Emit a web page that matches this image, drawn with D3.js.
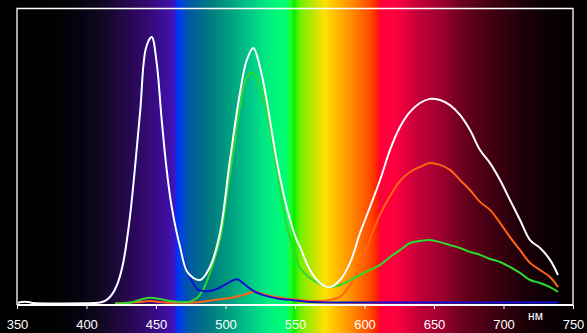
<!DOCTYPE html>
<html><head><meta charset="utf-8">
<script src="https://cdn.jsdelivr.net/npm/d3@7"></script>
<style>html,body{margin:0;padding:0;background:#000;overflow:hidden}</style>
</head><body>
<svg id="c" width="587" height="333"></svg>
<script>
// ---- data ----
const tickValues = [350, 400, 450, 500, 550, 600, 650, 700, 750];
const unitLabel = "нм";

const whiteNm  = [350.7,352,358,362,380,405,410,414,418,422,426,431,438.5,442.8,446.9,450.5,454.1,457.7,461.3,467.3,473,481.7,488.8,496,503.2,510.4,515.3,520,524.8,529.6,536.8,544,551.2,553.6,560.8,568,575.2,582.4,589.6,596.8,604,611.2,618.3,625.5,632.7,639.9,647.1,654.3,661.5,668.7,675.9,683.1,690.3,697.5,704.7,711.9,719.1,726.3,733.5,739.2];
const whiteVal = [0.3,0.6,0.7,0.3,0.2,0.3,0.5,1.2,3.0,6.5,13.0,28.4,64.5,86.5,90.2,81.4,62.2,45.3,32.8,19.3,10.5,8.1,12.5,24.0,48.6,71.3,82.4,86.5,80.1,68.9,48.6,32.8,21.6,19.3,11.5,7.1,5.7,8.1,13.9,24.0,32.8,41.9,52.0,59.8,64.9,67.9,69.3,68.9,67.2,63.9,58.8,52.0,47.6,41.9,35.1,28.4,21.6,18.9,14.9,9.8];

const orangeNm  = [420.5,438.5,445.7,456.5,481.7,492.4,503.2,512.6,521.2,529.9,541.4,553.6,568,575.2,582.4,589.6,596.8,604,611.2,618.3,625.5,632.7,639.9,647.1,654.3,661.5,668.7,675.9,683.1,690.3,697.5,704.7,711.9,719.1,726.3,733.5,739.2];
const orangeVal = [0.2,0.7,1.0,0.5,0.7,1.4,2.0,3.0,4.1,3.0,2.0,1.4,1.0,1.4,2.4,6.4,13.0,22.0,30.2,36.4,41.5,44.6,46.3,47.6,47.0,45.3,41.9,38.5,34.5,31.8,27.4,22.6,18.2,13.9,11.5,9.1,5.7];

const greenNm  = [420.5,431.3,440.6,445.7,452.9,460.1,467.3,474.5,479.5,483.8,488.8,496,501.8,505.4,510.4,515.3,519.8,524.8,529.9,537,544.2,551.4,553.6,560.8,568,575.2,582.4,589.6,596.8,604,611.2,618.3,625.5,632.7,639.9,647.1,654.3,661.5,668.7,675.9,683.1,690.3,697.5,704.7,711.9,719.1,726.3,733.5,739.2];
const greenVal = [0.2,0.4,1.7,2.1,1.7,1.0,0.7,0.8,2.0,4.7,10.5,21.6,39.5,50.9,66.6,76.7,78.0,73.3,64.5,45.3,26.0,14.9,12.2,8.8,6.8,5.7,6.4,8.1,9.8,11.5,13.2,15.9,18.2,20.6,21.3,21.6,20.9,19.9,18.9,17.6,16.6,15.2,14.2,12.5,10.5,8.1,7.1,5.7,4.1];

const blueNm  = [405,410,414,418,422,426,431,438.5,442.8,446.9,450.5,454.1,457.7,461.3,467.3,473,479.5,483.8,488.8,493.9,498.2,503.2,508.1,510.4,515.3,519.8,524.8,532,539.2,546.4,553.6,560.8,600,650,700,739.2];
const blueVal = [0.3,0.5,1.2,3.0,6.5,13.0,28.4,64.5,86.5,90.2,81.4,62.2,45.3,32.8,19.3,10.5,5.1,4.4,4.4,5.1,6.1,7.5,8.4,7.9,6.1,4.5,3.4,2.4,1.7,1.4,1.0,0.7,0.5,0.5,0.5,0.5];

// background spectrum colours by wavelength
const specNm  = [337.8,380.9,395.3,409.7,431.3,445.7,460.1,463.7,465.1,467.3,474.5,488.8,503.2,517.6,532,544.2,547.1,549.3,553.6,564.4,571.6,582.4,593.2,604,609,611.2,621.9,639.9,654.3,668.7,683.1,697.5,711.9,726.3,740.6,760];
const specCol = ["#000000","#020204","#050310","#100820","#280850","#360a78","#4010a8","#3818c8","#0030ff","#0040e0","#005aa0","#007a80","#00a080","#00c888","#00f080","#00ff70","#20ff20","#00f000","#70f000","#c8e400","#ffe000","#ffb000","#ff8000","#ff4a00","#ff2000","#ff0038","#ff0040","#c00038","#a00030","#700020","#500015","#380010","#200008","#100004","#060000","#000000"];

// ---- chart ----
const W = 587, H = 333;
const svg = d3.select("#c");
const x = d3.scaleLinear().domain([350, 750]).range([17, 573]);
const y = d3.scaleLinear().domain([0, 100]).range([304, 8]);

svg.append("rect").attr("width", W).attr("height", H).attr("fill", "#000");
const grad = svg.append("defs").append("linearGradient")
  .attr("id", "spec").attr("gradientUnits", "userSpaceOnUse")
  .attr("x1", 0).attr("x2", W).attr("y1", 0).attr("y2", 0);
specNm.forEach((n, i) => grad.append("stop")
  .attr("offset", x(n) / W).attr("stop-color", specCol[i]));
svg.append("rect").attr("width", W).attr("height", H).attr("fill", "url(#spec)");

// frame
svg.append("path")
  .attr("d", `M${x(350)},305 V8.5 H${x(750)} V305`)
  .attr("fill", "none").attr("stroke", "#fff").attr("stroke-width", 1.3);

const line = d3.line().x(d => x(d[0])).y(d => y(Math.max(0, d[1]))).curve(d3.curveCatmullRom.alpha(0.5));
const series = [
  {nm: orangeNm, v: orangeVal, c: "#ff6414"},
  {nm: greenNm,  v: greenVal,  c: "#2ed82e"},
  {nm: blueNm,   v: blueVal,   c: "#1010d0"},
  {nm: whiteNm,  v: whiteVal,  c: "#ffffff"}
];
series.forEach(s => {
  svg.append("path")
    .datum(s.nm.map((n, i) => [n, s.v[i]]))
    .attr("d", line)
    .attr("fill", "none").attr("stroke", s.c)
    .attr("stroke-width", 2).attr("stroke-linejoin", "round");
});

// x axis
const ax = svg.append("g").attr("transform", "translate(0,305)")
  .call(d3.axisBottom(x).tickValues(tickValues).tickSize(4).tickFormat(d3.format("d")));
ax.select(".domain").attr("stroke", "#fff").attr("stroke-width", 2)
  .attr("d", `M${x(350)},0H${x(750)}`);
ax.selectAll(".tick line").attr("stroke", "#fff");
ax.selectAll(".tick text").attr("fill", "#fff").attr("y", 24).attr("dy", 0)
  .style("font-family", "Liberation Sans, Arial, sans-serif").style("font-size", "13px");

svg.append("text").attr("x", x(723)).attr("y", 320).attr("text-anchor", "middle")
  .attr("fill", "#fff").style("font-family", "Liberation Sans, Arial, sans-serif")
  .style("font-size", "12px").text(unitLabel);
</script>
</body></html>
